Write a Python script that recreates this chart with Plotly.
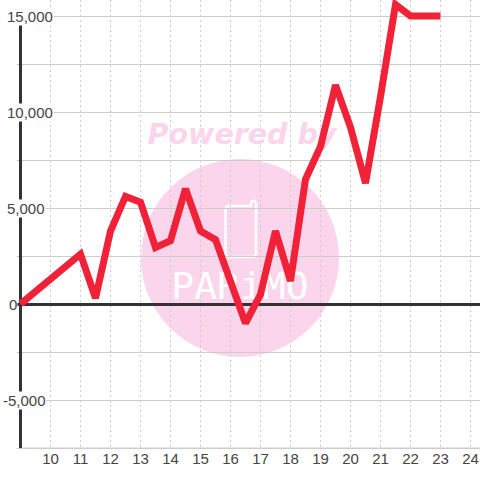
import plotly.graph_objects as go

hours = [9, 11, 11.5, 12, 12.5, 13, 13.5, 14, 14.5, 15, 15.5, 16, 16.5, 17, 17.5, 18, 18.5, 19, 19.5, 20, 20.5, 21, 21.5, 22, 22.5, 23]
values = [0, 2600, 300, 3800, 5600, 5300, 2950, 3300, 6000, 3800, 3350, 1300, -1000, 500, 3800, 1200, 6500, 8200, 11400, 9200, 6300, 10800, 15600, 15000, 15000, 15000]
x_ticks = list(range(10, 25))
y_labels = {15000: "15,000", 10000: "10,000", 5000: "5,000", 0: "0", -5000: "-5,000"}
y_label_left = {15000: 6, 10000: 6, 5000: 6, 0: 8, -5000: 2}

W, H = 480, 480
L, R, T, B = 17, 0, 0, 30
PINK = "#fbd5ec"
INK = "#444444"
GRID = "#cccccc"
DARK = "#333333"


def px(x):
    return (x - L) / (W - L - R)


def py(y):
    return 1 - (y - T) / (H - T - B)


def data_x(p):
    return 9 + (p - 20.5) / 30


def data_y(p):
    return (304 - p) / 0.0192


fig = go.Figure()
fig.add_trace(go.Scatter(x=[data_x(242)], y=[data_y(137)], mode="text", text=["<b><i>Powered by</i></b>"],
                         textposition="middle center", cliponaxis=False, hoverinfo="skip",
                         textfont=dict(family="DejaVu Sans", size=28.5, color=PINK)))
fig.add_trace(go.Scatter(x=[data_x(240)], y=[data_y(289)], mode="text", text=["PARiMO"],
                         textposition="middle center", cliponaxis=False, hoverinfo="skip",
                         textfont=dict(family="DejaVu Sans Mono", size=38, color="white")))
fig.add_trace(go.Scatter(x=hours, y=values, mode="lines", cliponaxis=False,
                         line=dict(color="#f12138", width=7), hoverinfo="skip"))

circle = dict(type="circle", xref="paper", yref="paper", layer="below",
              x0=px(141), x1=px(339), y0=py(357), y1=py(159),
              fillcolor=PINK, line=dict(width=0))
phone_path = (f"M {px(229)} {py(206)} L {px(251)} {py(206)} L {px(251)} {py(203)} "
              f"Q {px(253.5)} {py(198)} {px(256)} {py(203)} L {px(256)} {py(253)} "
              f"Q {px(256)} {py(257)} {px(252)} {py(257)} L {px(229)} {py(257)} "
              f"Q {px(225.5)} {py(257)} {px(225.5)} {py(253)} L {px(225.5)} {py(210)} "
              f"Q {px(225.5)} {py(206)} {px(229)} {py(206)} Z")
phone = dict(type="path", xref="paper", yref="paper", layer="below", path=phone_path,
             line=dict(color="white", width=2.5))
top_strip = dict(type="rect", xref="paper", yref="paper", layer="between",
                 x0=0, x1=1, y0=py(15.5), y1=1, fillcolor="white", line=dict(width=0))
left_strip = dict(type="rect", xref="paper", yref="paper", layer="between",
                  x0=0, x1=px(20), y0=0, y1=1, fillcolor="white", line=dict(width=0))
bottom_strip = dict(type="rect", xref="paper", yref="paper", layer="between",
                    x0=0, x1=1, y0=0, y1=py(448.5), fillcolor="white", line=dict(width=0))
y_axis_line = dict(type="line", xref="x", yref="y", layer="between",
                   x0=9, x1=9, y0=-7500, y1=15000, line=dict(color=DARK, width=3))
x_axis_line = dict(type="line", xref="x", yref="y", layer="between",
                   x0=9, x1=25, y0=-7500, y1=-7500, line=dict(color=GRID, width=1))

annotations = []
for val, text in y_labels.items():
    annotations.append(dict(xref="paper", yref="y", x=0, y=val, text=text, showarrow=False,
                            xanchor="left", yanchor="middle", xshift=y_label_left[val] - L,
                            font=dict(family="Liberation Sans", size=15, color=INK),
                            bgcolor="white", borderpad=0))

fig.update_layout(
    width=W, height=H, margin=dict(l=L, r=R, t=T, b=B),
    paper_bgcolor="white", plot_bgcolor="rgba(0,0,0,0)", showlegend=False,
    shapes=[circle, phone, top_strip, left_strip, bottom_strip, x_axis_line, y_axis_line],
    annotations=annotations,
    xaxis=dict(range=[9 + (L - 20.5) / 30, 9 + (480 - 20.5) / 30], tickvals=x_ticks, showgrid=True,
               gridcolor=GRID, griddash="2px,3px", gridwidth=1, showline=False,
               ticks="", zeroline=False, ticklabelstandoff=-2,
               tickfont=dict(family="Liberation Sans", size=15, color=INK)),
    yaxis=dict(range=[-7500 - 2 / 0.0192, 15000 + 16 / 0.0192], tick0=0, dtick=2500, showgrid=True,
               gridcolor=GRID, gridwidth=1, showticklabels=False, zeroline=True, zerolinecolor=DARK,
               zerolinewidth=3, showline=False, ticks=""),
)
fig.write_html("out.html", config=dict(displayModeBar=False), post_script="document.body.style.margin='0';")
